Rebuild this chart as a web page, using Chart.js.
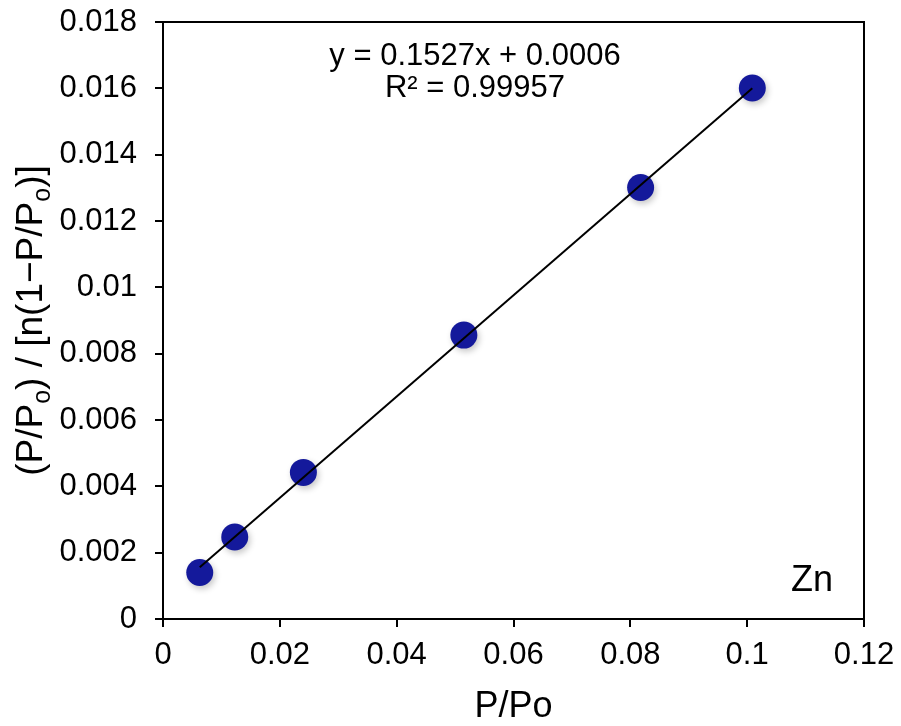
<!DOCTYPE html>
<html><head><meta charset="utf-8">
<script src="https://cdn.jsdelivr.net/npm/chart.js@4.4.0/dist/chart.umd.min.js"></script>
<style>html,body{margin:0;padding:0;background:#fff;}#wrap{width:901px;height:726px;}</style>
</head><body><div id="wrap"><canvas id="c" width="901" height="726"></canvas></div>
<script>
// ---- data ----
const pressureRatio = [0.00629, 0.01228, 0.02403, 0.0515, 0.08176, 0.10088];
const betValue = [0.0014, 0.00247, 0.00442, 0.00856, 0.01301, 0.01601];
const fitSlope = 0.1527;
const fitIntercept = 0.0006;
const fitR2 = '0.99957';
const xTicks = [0, 0.02, 0.04, 0.06, 0.08, 0.1, 0.12];
const xTickLabels = ['0', '0.02', '0.04', '0.06', '0.08', '0.1', '0.12'];
const yTicks = [0, 0.002, 0.004, 0.006, 0.008, 0.01, 0.012, 0.014, 0.016, 0.018];
const yTickLabels = ['0', '0.002', '0.004', '0.006', '0.008', '0.01', '0.012', '0.014', '0.016', '0.018'];
const sampleLabel = 'Zn';
const xTitle = 'P/Po';

const FONT = "'Liberation Sans', Arial, Helvetica, sans-serif";
const xMinFit = Math.min(...pressureRatio), xMaxFit = Math.max(...pressureRatio);
const fitLine = [xMinFit, xMaxFit].map(x => ({x, y: fitSlope * x + fitIntercept}));

const shadowPlugin = {
  id: 'shadow',
  beforeDatasetDraw(chart, args) {
    if (args.index !== 0) return;
    const ctx = chart.ctx;
    ctx.save();
    ctx.shadowColor = 'rgba(0,0,0,0.22)';
    ctx.shadowBlur = 6;
    ctx.shadowOffsetX = 2;
    ctx.shadowOffsetY = 3;
  },
  afterDatasetDraw(chart, args) {
    if (args.index !== 0) return;
    chart.ctx.restore();
  }
};

const decorPlugin = {
  id: 'decor',
  afterDraw(chart) {
    const ctx = chart.ctx, a = chart.chartArea;
    ctx.save();
    ctx.strokeStyle = '#000';
    ctx.lineWidth = 2;
    ctx.strokeRect(a.left, a.top, a.right - a.left, a.bottom - a.top);
    // equation
    ctx.fillStyle = '#000';
    ctx.textAlign = 'center';
    ctx.textBaseline = 'alphabetic';
    ctx.font = '31px ' + FONT;
    ctx.fillText('y = ' + fitSlope + 'x + ' + fitIntercept.toFixed(4), a.left + 312, a.top + 43);
    ctx.fillText('R\u00B2 = ' + fitR2, a.left + 312, a.top + 75);
    // sample label
    ctx.textAlign = 'right';
    ctx.font = '36px ' + FONT;
    ctx.fillText(sampleLabel, a.right - 31, a.bottom - 28);
    // y title with subscripts
    const parts = [
      ['(P/P', 0], ['o', 1], [') / [n(1\u2212P/P', 0], ['o', 1], [')]', 0]
    ];
    const big = '37px ' + FONT, small = '25px ' + FONT;
    let total = 0;
    parts.forEach(p => { ctx.font = p[1] ? small : big; total += ctx.measureText(p[0]).width; });
    ctx.translate(42, (a.top + a.bottom) / 2);
    ctx.rotate(-Math.PI / 2);
    ctx.textAlign = 'left';
    let x = -total / 2;
    parts.forEach(p => {
      ctx.font = p[1] ? small : big;
      ctx.fillText(p[0], x, p[1] ? 8 : 0);
      x += ctx.measureText(p[0]).width;
    });
    ctx.restore();
  }
};

new Chart(document.getElementById('c'), {
  data: {
    datasets: [
      {
        type: 'scatter',
        data: pressureRatio.map((x, i) => ({x, y: betValue[i]})),
        backgroundColor: '#14199b',
        borderWidth: 0,
        pointRadius: 13.5,
        pointHoverRadius: 13.5,
        order: 2
      },
      {
        type: 'line',
        data: fitLine,
        borderColor: '#000',
        borderWidth: 2,
        pointRadius: 0,
        fill: false,
        order: 1
      }
    ]
  },
  options: {
    responsive: false,
    animation: false,
    devicePixelRatio: 1,
    layout: {padding: {left: 0, top: 22, right: 37, bottom: 0}},
    plugins: {legend: {display: false}, tooltip: {enabled: false}},
    scales: {
      x: {
        type: 'linear', position: 'bottom', min: 0, max: 0.12,
        afterBuildTicks: s => { s.ticks = xTicks.map(v => ({value: v})); },
        afterFit: s => { s.height = 107; s.paddingLeft = 0; s.paddingRight = 0; },
        border: {display: true, color: '#000', width: 2},
        grid: {drawOnChartArea: false, drawTicks: true, tickLength: 8, color: '#000', lineWidth: 2},
        ticks: {color: '#000', font: {size: 31, family: FONT}, padding: 10, maxRotation: 0,
          callback: (v, i) => xTickLabels[i]},
        title: {display: true, text: xTitle, color: '#000', font: {size: 36, family: FONT}, padding: {top: 0, bottom: -3}}
      },
      y: {
        type: 'linear', position: 'left', min: 0, max: 0.018,
        afterBuildTicks: s => { s.ticks = yTicks.map(v => ({value: v})); },
        afterFit: s => { s.width = 163; s.paddingTop = 0; s.paddingBottom = 0; },
        border: {display: true, color: '#000', width: 2},
        grid: {drawOnChartArea: false, drawTicks: true, tickLength: 8, color: '#000', lineWidth: 2},
        ticks: {color: '#000', font: {size: 31, family: FONT}, padding: 18,
          callback: (v, i) => yTickLabels[i]}
      }
    }
  },
  plugins: [shadowPlugin, decorPlugin]
});
</script>
</body></html>
